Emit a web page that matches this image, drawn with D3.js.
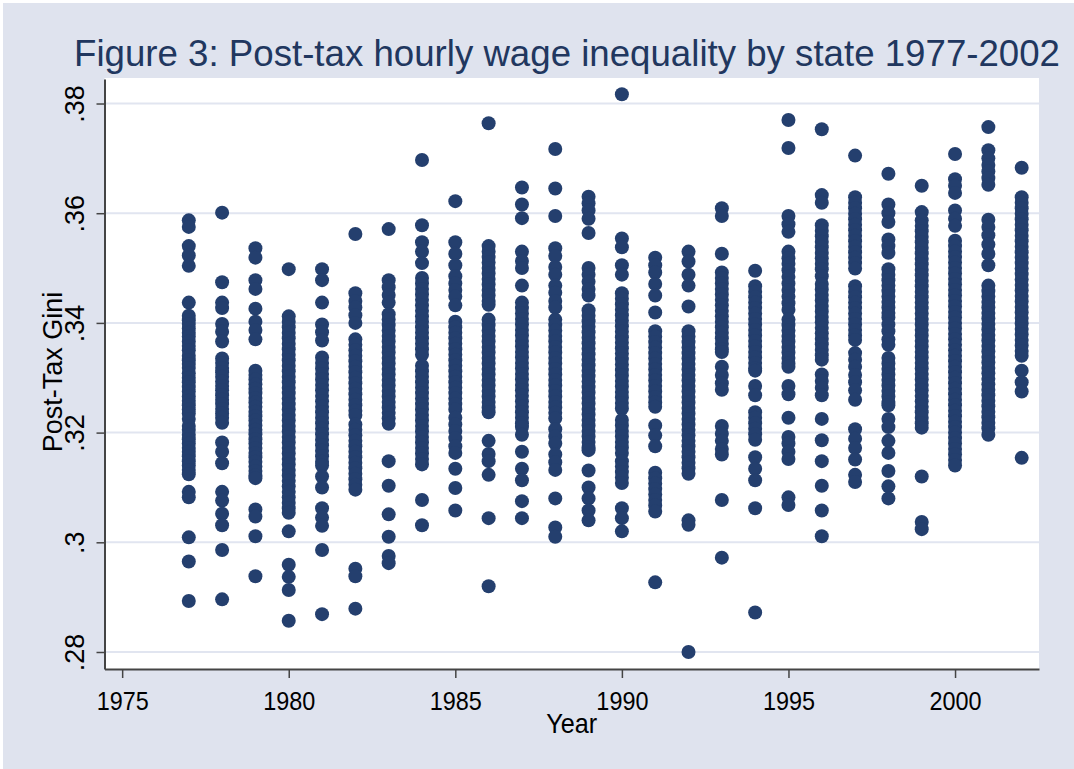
<!DOCTYPE html>
<html>
<head>
<meta charset="utf-8">
<script src="https://cdn.jsdelivr.net/npm/d3@7"></script>
<style>
  body { margin: 0; background: #fff; }
  text { font-family: Arial, "Liberation Sans", sans-serif; }
</style>
</head>
<body>
<div id="chart"></div>
<script>
// post-tax gini by state, one array per year
var years = [1977, 1978, 1979, 1980, 1981, 1982, 1983, 1984, 1985, 1986, 1987, 1988, 1989,
             1990, 1991, 1992, 1993, 1994, 1995, 1996, 1997, 1998, 1999, 2000, 2001, 2002]

var g1977 = [.3587,.3575,.3540,.3523,.3504,.3437,.3413,.3405,.3398,.3390,.3382,.3375,.3366,.3358,.3350,.3340,.3332,.3325,.3318,.3308,.3300,.3292,.3283,.3275,.3266,.3258,.3250,.3242,.3235,.3225,.3212,.3205,.3196,.3188,.3180,.3172,.3165,.3157,.3148,.3140,.3132,.3124,.3092,.3082,.3009,.2965,.2893]
var g1978 = [.3601,.3474,.3437,.3427,.3398,.3384,.3366,.3335,.3327,.3318,.3310,.3302,.3293,.3285,.3277,.3268,.3260,.3252,.3243,.3235,.3227,.3218,.3182,.3165,.3144,.3092,.3076,.3052,.3031,.2986,.2896]
var g1979 = [.3536,.3519,.3478,.3462,.3426,.3402,.3387,.3370,.3313,.3305,.3297,.3288,.3280,.3272,.3263,.3255,.3247,.3238,.3230,.3222,.3213,.3205,.3197,.3188,.3180,.3172,.3163,.3155,.3147,.3138,.3130,.3122,.3117,.3060,.3047,.3011,.2938]
var g1980 = [.3498,.3412,.3402,.3392,.3382,.3372,.3362,.3352,.3342,.3332,.3322,.3312,.3302,.3292,.3282,.3272,.3262,.3252,.3242,.3232,.3222,.3212,.3202,.3192,.3182,.3172,.3162,.3152,.3142,.3132,.3122,.3112,.3102,.3092,.3082,.3072,.3062,.3054,.3020,.2959,.2937,.2913,.2857]
var g1981 = [.3498,.3478,.3437,.3397,.3383,.3368,.3337,.3327,.3317,.3307,.3297,.3287,.3277,.3267,.3257,.3247,.3237,.3227,.3217,.3207,.3197,.3187,.3177,.3167,.3157,.3147,.3140,.3120,.3100,.3062,.3045,.3030,.2986,.2869]
var g1982 = [.3562,.3454,.3440,.3428,.3414,.3400,.3370,.3360,.3350,.3340,.3330,.3320,.3310,.3300,.3290,.3280,.3270,.3260,.3250,.3240,.3232,.3215,.3205,.3195,.3185,.3175,.3165,.3155,.3145,.3135,.3125,.3115,.3105,.3096,.2952,.2938,.2879]
var g1983 = [.3571,.3478,.3465,.3451,.3437,.3416,.3406,.3396,.3386,.3376,.3366,.3356,.3346,.3336,.3326,.3316,.3306,.3296,.3286,.3276,.3266,.3256,.3246,.3236,.3226,.3216,.3148,.3103,.3051,.3010,.2975,.2962]
var g1984 = [.3697,.3578,.3547,.3530,.3509,.3482,.3472,.3462,.3452,.3442,.3432,.3422,.3412,.3402,.3392,.3382,.3372,.3362,.3352,.3342,.3322,.3312,.3302,.3292,.3282,.3272,.3262,.3252,.3242,.3232,.3222,.3212,.3202,.3192,.3182,.3172,.3162,.3152,.3142,.3077,.3031]
var g1985 = [.3622,.3547,.3526,.3505,.3485,.3472,.3460,.3448,.3432,.3402,.3392,.3382,.3372,.3362,.3352,.3342,.3332,.3322,.3312,.3302,.3292,.3282,.3272,.3262,.3252,.3242,.3227,.3215,.3203,.3190,.3175,.3163,.3134,.3099,.3058]
var g1986 = [.3764,.3540,.3530,.3520,.3510,.3500,.3490,.3480,.3470,.3460,.3450,.3440,.3433,.3406,.3396,.3386,.3376,.3366,.3356,.3346,.3336,.3326,.3316,.3306,.3296,.3286,.3276,.3266,.3256,.3246,.3237,.3185,.3161,.3148,.3123,.3044,.2920]
var g1987 = [.3647,.3616,.3591,.3530,.3513,.3500,.3468,.3437,.3427,.3417,.3407,.3397,.3387,.3377,.3367,.3357,.3347,.3337,.3327,.3317,.3307,.3297,.3287,.3277,.3267,.3257,.3247,.3237,.3227,.3217,.3210,.3196,.3165,.3134,.3113,.3075,.3044]
var g1988 = [.3717,.3645,.3595,.3536,.3522,.3502,.3488,.3468,.3455,.3440,.3428,.3406,.3396,.3386,.3376,.3366,.3356,.3346,.3336,.3326,.3316,.3306,.3296,.3286,.3276,.3266,.3256,.3246,.3236,.3226,.3206,.3193,.3180,.3160,.3146,.3132,.3080,.3027,.3010]
var g1989 = [.3630,.3618,.3605,.3590,.3564,.3500,.3488,.3475,.3462,.3450,.3423,.3413,.3403,.3393,.3383,.3373,.3363,.3353,.3343,.3333,.3323,.3313,.3303,.3293,.3283,.3273,.3263,.3253,.3243,.3233,.3223,.3213,.3203,.3193,.3183,.3173,.3168,.3131,.3100,.3080,.3058,.3040]
var g1990 = [.3817,.3554,.3538,.3505,.3488,.3454,.3444,.3434,.3424,.3414,.3404,.3394,.3384,.3374,.3364,.3354,.3344,.3334,.3324,.3314,.3304,.3294,.3284,.3274,.3264,.3254,.3244,.3223,.3213,.3203,.3193,.3183,.3173,.3163,.3148,.3138,.3128,.3118,.3108,.3062,.3044,.3020]
var g1991 = [.3519,.3505,.3492,.3471,.3450,.3419,.3385,.3375,.3365,.3355,.3345,.3335,.3325,.3315,.3305,.3295,.3285,.3275,.3265,.3255,.3247,.3213,.3195,.3175,.3127,.3117,.3107,.3097,.3087,.3077,.3067,.3056,.2927]
var g1992 = [.3530,.3512,.3488,.3468,.3430,.3385,.3375,.3365,.3355,.3345,.3335,.3325,.3315,.3305,.3295,.3285,.3275,.3265,.3255,.3245,.3235,.3225,.3215,.3205,.3195,.3185,.3175,.3165,.3155,.3145,.3135,.3125,.3040,.3032,.2800]
var g1993 = [.3609,.3595,.3526,.3492,.3482,.3472,.3462,.3452,.3442,.3432,.3422,.3412,.3402,.3392,.3382,.3372,.3362,.3352,.3347,.3320,.3305,.3290,.3278,.3212,.3198,.3185,.3170,.3160,.3077,.2972]
var g1994 = [.3495,.3467,.3457,.3447,.3437,.3427,.3417,.3407,.3397,.3387,.3377,.3367,.3357,.3347,.3337,.3327,.3317,.3313,.3285,.3268,.3237,.3227,.3217,.3207,.3197,.3187,.3155,.3134,.3113,.3062,.2872]
var g1995 = [.3770,.3719,.3595,.3580,.3566,.3530,.3518,.3508,.3496,.3484,.3472,.3460,.3448,.3436,.3424,.3406,.3396,.3386,.3376,.3366,.3356,.3346,.3336,.3326,.3320,.3285,.3270,.3227,.3192,.3180,.3165,.3152,.3082,.3068]
var g1996 = [.3753,.3633,.3619,.3578,.3568,.3558,.3548,.3538,.3528,.3518,.3508,.3498,.3485,.3471,.3461,.3451,.3441,.3431,.3421,.3411,.3401,.3391,.3381,.3371,.3361,.3351,.3341,.3333,.3306,.3294,.3282,.3268,.3225,.3186,.3148,.3103,.3058,.3011]
var g1997 = [.3705,.3629,.3619,.3609,.3599,.3589,.3579,.3569,.3559,.3549,.3539,.3529,.3519,.3509,.3499,.3467,.3457,.3447,.3437,.3427,.3417,.3407,.3397,.3387,.3377,.3369,.3345,.3333,.3320,.3305,.3292,.3277,.3260,.3206,.3189,.3172,.3151,.3123,.3110]
var g1998 = [.3672,.3616,.3600,.3584,.3552,.3540,.3528,.3498,.3488,.3478,.3468,.3458,.3448,.3438,.3428,.3418,.3410,.3397,.3385,.3370,.3360,.3336,.3326,.3316,.3306,.3296,.3286,.3276,.3266,.3256,.3250,.3225,.3210,.3185,.3163,.3130,.3102,.3080]
var g1999 = [.3650,.3602,.3587,.3577,.3567,.3557,.3547,.3537,.3527,.3517,.3507,.3497,.3487,.3477,.3467,.3457,.3447,.3437,.3427,.3417,.3407,.3397,.3387,.3377,.3367,.3357,.3347,.3337,.3327,.3317,.3307,.3297,.3287,.3277,.3267,.3257,.3247,.3237,.3227,.3217,.3209,.3120,.3037,.3024]
var g2000 = [.3708,.3662,.3650,.3637,.3605,.3590,.3577,.3550,.3540,.3530,.3520,.3510,.3500,.3490,.3480,.3470,.3460,.3450,.3440,.3430,.3420,.3410,.3400,.3390,.3380,.3370,.3360,.3350,.3340,.3330,.3320,.3310,.3300,.3290,.3280,.3270,.3260,.3250,.3240,.3230,.3220,.3210,.3200,.3190,.3180,.3170,.3160,.3150,.3140]
var g2001 = [.3757,.3715,.3700,.3688,.3676,.3664,.3652,.3588,.3575,.3560,.3543,.3526,.3505,.3468,.3458,.3448,.3438,.3428,.3418,.3408,.3398,.3388,.3378,.3368,.3358,.3348,.3338,.3328,.3318,.3308,.3298,.3288,.3278,.3268,.3258,.3248,.3238,.3228,.3218,.3208,.3196]
var g2002 = [.3683,.3629,.3619,.3609,.3599,.3589,.3579,.3569,.3559,.3549,.3539,.3529,.3519,.3509,.3499,.3489,.3479,.3469,.3459,.3449,.3439,.3429,.3419,.3409,.3399,.3389,.3379,.3369,.3359,.3349,.3340,.3313,.3292,.3275,.3154]

var giniByYear = [g1977, g1978, g1979, g1980, g1981, g1982, g1983, g1984, g1985, g1986, g1987, g1988, g1989,
                  g1990, g1991, g1992, g1993, g1994, g1995, g1996, g1997, g1998, g1999, g2000, g2001, g2002]

var xTicks = [1975, 1980, 1985, 1990, 1995, 2000]
var yTicks = [.28, .30, .32, .34, .36, .38]

// flatten into points
var points = []
years.forEach(function (yr, i) {
  giniByYear[i].forEach(function (v) { points.push({ year: yr, gini: v }) })
})

var W = 1074, H = 769
var plot = { left: 104.5, right: 1039, top: 78, bottom: 669 }
var navy = '#243f6e'

var svg = d3.select('#chart')
  .append('svg')
  .attr('width', W)
  .attr('height', H)

// graph region background
svg.append('rect')
  .attr('x', 3).attr('y', 3)
  .attr('width', W - 3).attr('height', H - 3)
  .attr('fill', '#dfe3ee')

// plot region
svg.append('rect')
  .attr('x', plot.left).attr('y', plot.top)
  .attr('width', plot.right - plot.left).attr('height', plot.bottom - plot.top)
  .attr('fill', '#fff')

var x = d3.scaleLinear()
  .domain([1974.47, 2002.52])
  .range([plot.left, plot.right])

var y = d3.scaleLinear()
  .domain([.2769, .38447])
  .range([plot.bottom, 79])

// gridlines
svg.append('g')
  .selectAll('line')
  .data(yTicks)
  .enter()
  .append('line')
  .attr('x1', plot.left).attr('x2', plot.right)
  .attr('y1', function (d) { return y(d) })
  .attr('y2', function (d) { return y(d) })
  .attr('stroke', '#e1e5f0')
  .attr('stroke-width', 2)

// points
svg.append('g')
  .selectAll('circle')
  .data(points)
  .enter()
  .append('circle')
  .attr('cx', function (d) { return x(d.year) })
  .attr('cy', function (d) { return y(d.gini) })
  .attr('r', 7)
  .attr('fill', navy)

// x axis
var xAxis = svg.append('g')
  .attr('transform', 'translate(0,' + plot.bottom + ')')
  .call(d3.axisBottom(x).tickValues(xTicks).tickFormat(d3.format('d')).tickSize(9).tickSizeOuter(0))
xAxis.select('.domain').attr('stroke', '#444').attr('stroke-width', 2)
xAxis.selectAll('.tick line').attr('stroke', '#444').attr('stroke-width', 1.5)
xAxis.selectAll('.tick text')
  .attr('y', 0).attr('dy', 0)
  .attr('transform', 'translate(0,41) scale(0.9,1)')
  .attr('fill', '#000')
  .style('font-size', '26px')

// y axis
var yAxis = svg.append('g')
  .attr('transform', 'translate(' + plot.left + ',0)')
  .call(d3.axisLeft(y).tickValues(yTicks)
    .tickFormat(function (d) { return String(+d.toFixed(2)).replace(/^0/, '') })
    .tickSize(8).tickSizeOuter(0))
yAxis.select('.domain').attr('stroke', '#444').attr('stroke-width', 2)
yAxis.selectAll('.tick line').attr('stroke', '#444').attr('stroke-width', 1.5)
yAxis.selectAll('.tick text')
  .attr('transform', 'rotate(-90)')
  .attr('text-anchor', 'middle')
  .attr('x', 0).attr('y', -21).attr('dy', 0)
  .attr('fill', '#000')
  .style('font-size', '27px')

// axis titles
svg.append('text')
  .attr('transform', 'translate(' + (plot.left + plot.right) / 2 + ',733) scale(0.9,1)')
  .attr('text-anchor', 'middle')
  .style('font-size', '28px')
  .attr('fill', '#000')
  .text('Year')

svg.append('text')
  .attr('transform', 'translate(62,372) rotate(-90)')
  .attr('text-anchor', 'middle')
  .style('font-size', '27px')
  .attr('fill', '#000')
  .text('Post-Tax Gini')

// title (kept just inside the right edge)
svg.append('text')
  .attr('x', 74)
  .attr('y', 66)
  .attr('textLength', 986)
  .attr('lengthAdjust', 'spacingAndGlyphs')
  .style('font-size', '37px')
  .attr('fill', '#21375f')
  .text('Figure 3: Post-tax hourly wage inequality by state 1977-2002')
</script>
</body>
</html>
